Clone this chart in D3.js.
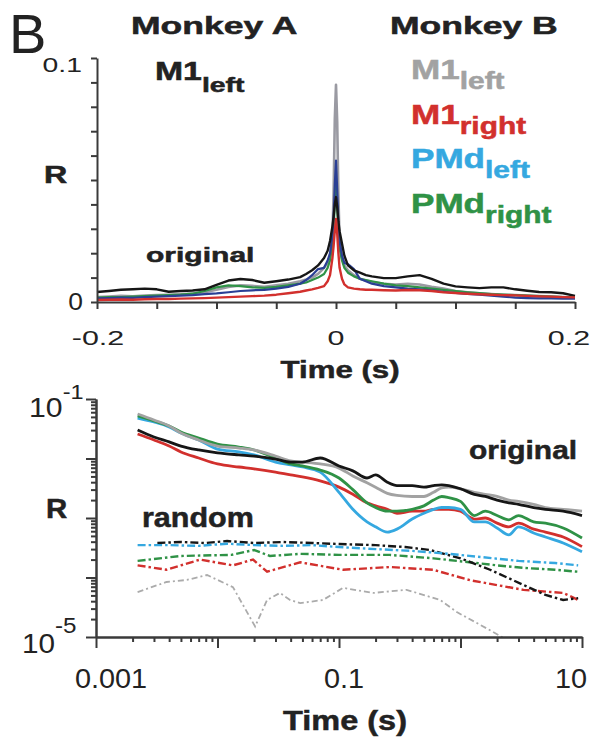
<!DOCTYPE html>
<html><head><meta charset="utf-8">
<script src="https://cdn.jsdelivr.net/npm/d3@7"></script>
<style>
body{margin:0;background:#fff}
svg{display:block}
text{font-family:"Liberation Sans",Arial,Helvetica,sans-serif}
</style>
</head><body>
<svg id="c" width="595" height="742"></svg>
<script>
// ---------- top panel: cross-correlation vs lag ----------
const lagsTop = [-0.2,-0.19,-0.18,-0.17,-0.16,-0.15,-0.14,-0.13,-0.12,-0.11,-0.1,-0.09,-0.08,-0.07,-0.06,-0.05,-0.04,-0.03,
  -0.025,-0.02,-0.015,-0.01,-0.007,-0.005,-0.003,-0.002,-0.001,0,0.001,0.002,0.003,0.005,0.007,0.01,0.015,0.02,0.025,
  0.03,0.04,0.05,0.06,0.07,0.08,0.09,0.1,0.11,0.12,0.13,0.14,0.15,0.16,0.17,0.18,0.19,0.2];
const topA_M1left = [0.0041,0.0045,0.005,0.0052,0.0055,0.0052,0.0042,0.0045,0.0047,0.0052,0.007,0.0088,0.0094,0.009,0.0079,0.0085,0.0092,0.0102,
  0.0115,0.013,0.015,0.018,0.021,0.025,0.031,0.035,0.04,0.043,0.039,0.033,0.029,0.024,0.019,0.015,0.013,0.012,0.011,
  0.0105,0.0098,0.0098,0.0105,0.011,0.0095,0.0075,0.0064,0.006,0.0057,0.006,0.006,0.0052,0.0046,0.0041,0.004,0.0036,0.0025];
const topB_M1left = [0.002,0.0022,0.0025,0.0023,0.0026,0.0028,0.003,0.0032,0.0035,0.004,0.005,0.0062,0.0068,0.0066,0.0062,0.0068,0.0075,0.0085,
  0.0092,0.01,0.0115,0.014,0.016,0.019,0.026,0.045,0.075,0.089,0.074,0.044,0.025,0.018,0.015,0.013,0.011,0.0095,0.0088,
  0.0082,0.0075,0.0072,0.0075,0.0072,0.0062,0.0055,0.0045,0.004,0.0036,0.0033,0.003,0.0028,0.0026,0.0024,0.0022,0.002,0.0018];
const topB_M1right = [0.0008,0.0009,0.001,0.0009,0.0011,0.0012,0.0012,0.0014,0.0015,0.0016,0.0018,0.002,0.0022,0.0024,0.0026,0.003,0.0036,0.0042,
  0.0047,0.0052,0.0058,0.0065,0.0085,0.011,0.018,0.023,0.029,0.034,0.028,0.02,0.014,0.0095,0.0072,0.006,0.0055,0.0052,0.005,
  0.005,0.0048,0.0047,0.0049,0.0048,0.0045,0.004,0.0037,0.0034,0.0032,0.003,0.0028,0.0027,0.0025,0.0023,0.0022,0.002,0.0019];
const topB_PMdleft = [0.0015,0.0016,0.0018,0.0017,0.002,0.0022,0.0024,0.0026,0.0028,0.0032,0.0035,0.004,0.0045,0.0048,0.005,0.0055,0.0062,0.0075,
  0.009,0.011,0.0135,0.014,0.017,0.02,0.027,0.035,0.048,0.058,0.046,0.033,0.025,0.019,0.016,0.0155,0.0135,0.0095,0.0085,
  0.0075,0.0065,0.006,0.0055,0.0052,0.0048,0.0042,0.0037,0.0033,0.003,0.0026,0.0022,0.0018,0.0016,0.0015,0.0015,0.0014,0.0014];
const topB_PMdright = [0.0018,0.002,0.002,0.0022,0.0024,0.0026,0.0028,0.003,0.0034,0.0045,0.006,0.0068,0.0065,0.006,0.0058,0.0062,0.0068,0.0075,
  0.008,0.009,0.01,0.0115,0.014,0.017,0.024,0.03,0.04,0.048,0.039,0.029,0.022,0.017,0.014,0.012,0.0105,0.0095,0.009,
  0.0085,0.0075,0.0068,0.0065,0.006,0.0055,0.005,0.0045,0.004,0.0036,0.0032,0.003,0.0028,0.0026,0.0024,0.0022,0.002,0.0018];
const topXTicks = [-0.2,-0.15,-0.1,-0.05,0,0.05,0.1,0.15,0.2];
const topXLabels = ["-0.2","0","0.2"];
const topYTicks = [0,0.01,0.02,0.03,0.04,0.05,0.06,0.07,0.08,0.09,0.1];
const topYLabels = ["0","0.1"];

// ---------- bottom panel: R vs time scale (log-log) ----------
const tB = [0.0022,0.003,0.004,0.005,0.007,0.01,0.015,0.02,0.03,0.04,0.05,0.07,0.1,0.13,0.17,0.2,0.25,0.3,0.4,0.5,0.6,0.7,0.8,1,1.3,1.6,2,2.5,3,4,5,7,10];
const botA_M1left = [0.0301,0.0230,0.0190,0.0162,0.0139,0.0124,0.0115,0.0110,0.0098,0.0087,0.0087,0.0102,0.0075,0.0062,0.0047,0.0053,0.0040,0.0035,0.0035,0.0033,0.0035,0.0036,0.0035,0.0031,0.0025,0.0023,0.0020,0.0018,0.0017,0.0015,0.0014,0.0013,0.0011];
const botB_M1left = [0.0559,0.0444,0.0352,0.0268,0.0205,0.0162,0.0150,0.0139,0.0110,0.0091,0.0087,0.0081,0.0069,0.0051,0.0039,0.0033,0.0026,0.0024,0.0023,0.0023,0.0027,0.0032,0.0033,0.0031,0.0027,0.0025,0.0023,0.0020,0.0019,0.0017,0.0015,0.0014,0.0013];
const botB_M1right = [0.0258,0.0205,0.0162,0.0129,0.0102,0.0081,0.0072,0.0067,0.0059,0.0053,0.0049,0.0042,0.0033,0.0025,0.0018,0.0016,0.0014,0.0012,0.0013,0.0013,0.0014,0.0014,0.0014,0.0013,0.00096,0.0010,0.00082,0.00071,0.00082,0.00065,0.00058,0.00048,0.00033];
const botB_PMdleft = [0.0479,0.0411,0.0339,0.0268,0.0205,0.0144,0.0129,0.0115,0.0087,0.0078,0.0072,0.0059,0.0027,0.0014,0.00086,0.00071,0.00058,0.00065,0.00096,0.0012,0.0014,0.0015,0.0015,0.0014,0.00086,0.00086,0.00068,0.00052,0.00071,0.00056,0.00048,0.00038,0.00027];
const botB_PMdright = [0.0518,0.0427,0.0352,0.0279,0.0221,0.0175,0.0156,0.0139,0.0102,0.0081,0.0075,0.0064,0.0047,0.0030,0.0018,0.0015,0.0013,0.0013,0.0014,0.0016,0.0020,0.0023,0.0022,0.0019,0.0011,0.0013,0.0011,0.00093,0.0011,0.00086,0.00082,0.00068,0.00046];

const tRandBlue = [0.0022,0.004,0.007,0.012,0.02,0.035,0.06,0.1,0.2,0.4,0.8,1.5,3,6,9.3];
const rRandBlue = [3.5e-4,3.5e-4,3.4e-4,3.7e-4,3.5e-4,3.4e-4,3.5e-4,3.25e-4,3.0e-4,2.8e-4,2.5e-4,2.2e-4,1.9e-4,1.75e-4,1.6e-4];
const tRandBlack = [0.0032,0.005,0.008,0.012,0.02,0.035,0.06,0.1,0.2,0.35,0.56,1.0,1.75,3.3,5,7,9.3];
const rRandBlack = [3.8e-4,3.95e-4,3.8e-4,4.1e-4,3.8e-4,3.95e-4,3.8e-4,3.65e-4,3.5e-4,3.25e-4,2.9e-4,2.1e-4,1.35e-4,7.5e-5,5.1e-5,4.2e-5,4.5e-5];
const tRandGreen = [0.0022,0.005,0.013,0.02,0.027,0.048,0.1,0.26,0.6,0.94,2,3.3,6,9.3];
const rRandGreen = [1.9e-4,2.3e-4,2.4e-4,2.9e-4,2.3e-4,2.5e-4,2.4e-4,2.4e-4,2.1e-4,1.9e-4,1.6e-4,1.45e-4,1.35e-4,1.25e-4];
const tRandRed = [0.0022,0.0038,0.0072,0.0134,0.0196,0.0256,0.048,0.108,0.263,0.594,1.2,3.3,7,9.3];
const rRandRed = [1.6e-4,1.35e-4,2.0e-4,1.6e-4,2.0e-4,1.25e-4,1.8e-4,1.35e-4,1.5e-4,1.35e-4,9e-5,6.2e-5,5.5e-5,4.2e-5];
const tRandGray = [0.0022,0.0038,0.0056,0.0082,0.0134,0.0204,0.0256,0.0327,0.0395,0.048,0.074,0.108,0.19,0.36,0.68,0.94,1.75,2.4];
const rRandGray = [5.7e-5,8.4e-5,9.1e-5,1.1e-4,6.9e-5,1.5e-5,4.2e-5,5.5e-5,4.2e-5,3.7e-5,4.2e-5,6.7e-5,5.5e-5,6.2e-5,4.2e-5,2.6e-5,1.3e-5,9e-6];

const botXMajor = [0.001,0.01,0.1,1,10];
const botXLabels = ["0.001","0.1","10"];
const botYMajor = [1e-5,1e-4,1e-3,1e-2,1e-1];
const botYLabels = ["-5","-1"];

const legendNames = [["M1","left"],["M1","right"],["PMd","left"],["PMd","right"]];
const legendColors = ["#a2a2a2","#d2302d","#35a8e0","#2f9246"];

// ---------- drawing ----------
const svg = d3.select("#c");
svg.append("rect").attr("width",595).attr("height",742).attr("fill","#fff");
const INK = "#222", AX = "#3a3a3a";

function stext(x, y, parts, o) {
  o = o || {};
  const fill = o.fill || INK;
  const t = svg.append("text")
    .attr("transform", `translate(${x},${y}) scale(${o.sx||1},1)`)
    .attr("text-anchor", o.anchor || "start")
    .attr("font-weight", o.weight || "normal")
    .attr("fill", fill);
  if (o.weight === "bold") t.attr("stroke", fill).attr("stroke-width", 0.5);
  parts.forEach(p => t.append("tspan").attr("font-size", p.s).attr("dy", p.dy || 0).text(p.t));
  return t;
}

// top scales
const xT = d3.scaleLinear().domain([-0.2,0.2]).range([97,575]);
const yT = d3.scaleLinear().domain([0,0.1]).range([302,58]);

const gTop = svg.append("g");
const topSeries = [
  {v: topB_M1left, c: "#9a9aa2", w: 2.6},
  {v: topB_PMdright, c: "#2f9246", w: 2.2},
  {v: topB_PMdleft, c: "#2a3f95", w: 2.2},
  {v: topA_M1left, c: "#161616", w: 2.4},
  {v: topB_M1right, c: "#d2302d", w: 2.4}
];
const lineT = d3.line().x(d => xT(d[0])).y(d => yT(d[1]));
topSeries.forEach(s => {
  gTop.append("path").datum(lagsTop.map((l,i) => [l, s.v[i]]))
    .attr("d", lineT).attr("fill","none").attr("stroke", s.c)
    .attr("stroke-width", s.w).attr("stroke-linejoin","round");
});

// top axes
const axYT = svg.append("g").attr("transform","translate(97,0)")
  .call(d3.axisLeft(yT).tickValues(topYTicks).tickSize(6).tickSizeOuter(0).tickFormat(""));
const axXT = svg.append("g").attr("transform","translate(0,302)")
  .call(d3.axisBottom(xT).tickValues(topXTicks).tickSize(7).tickSizeOuter(0).tickFormat(""));
[axYT, axXT].forEach(a => { a.selectAll("path,line").attr("stroke", AX).attr("stroke-width", 2); });

// top tick labels
stext(82, 72, [{t: topYLabels[1], s: 21}], {anchor: "end", sx: 1.35});
stext(83, 310, [{t: topYLabels[0], s: 24}], {anchor: "end", sx: 1.1});
const topXLabelX = [98, 336, 569];
topXLabels.forEach((l,i) => stext(topXLabelX[i], 345, [{t: l, s: 21}], {anchor: "middle", sx: 1.45}));
stext(340, 378, [{t: "Time (s)", s: 24}], {anchor: "middle", weight: "bold", sx: 1.3});
stext(44, 183, [{t: "R", s: 23}], {weight: "bold", sx: 1.4});
stext(146, 262, [{t: "original", s: 21}], {weight: "bold", sx: 1.43});

// headings
stext(9, 53, [{t: "B", s: 56}], {});
stext(131, 34, [{t: "Monkey A", s: 24}], {weight: "bold", sx: 1.48});
stext(390, 34, [{t: "Monkey B", s: 24}], {weight: "bold", sx: 1.48});
stext(155, 80, [{t: "M1", s: 25}, {t: "left", s: 21, dy: 12}], {weight: "bold", sx: 1.35});
legendNames.forEach((n,i) => {
  stext(411, 79 + i*44.5, [{t: n[0], s: 27}, {t: n[1], s: 23, dy: 10}], {weight: "bold", sx: 1.3, fill: legendColors[i]});
});

// bottom scales
const xB = d3.scaleLog().domain([0.001,10]).range([96,582]);
const yB = d3.scaleLog().domain([1e-5,1e-1]).range([637,399]);

svg.append("defs").append("clipPath").attr("id","clipB")
  .append("rect").attr("x",96).attr("y",395).attr("width",490).attr("height",242);
const gBot = svg.append("g").attr("clip-path","url(#clipB)");
const lineB = d3.line().x(d => xB(d[0])).y(d => yB(d[1])).curve(d3.curveMonotoneX);
const lineBr = d3.line().x(d => xB(d[0])).y(d => yB(d[1]));

const randSeries = [
  {t: tRandGray, v: rRandGray, c: "#ababab", w: 1.8, dash: "6,3,2,3"},
  {t: tRandRed, v: rRandRed, c: "#d2302d", w: 2.4, dash: "8,3,2.5,3"},
  {t: tRandGreen, v: rRandGreen, c: "#2f9246", w: 2.4, dash: "8,3,2.5,3"},
  {t: tRandBlack, v: rRandBlack, c: "#161616", w: 2.4, dash: "8,3,2.5,3"},
  {t: tRandBlue, v: rRandBlue, c: "#35a8e0", w: 2.4, dash: "8,3,2.5,3"}
];
randSeries.forEach(s => {
  gBot.append("path").datum(s.t.map((t,i) => [t, s.v[i]]))
    .attr("d", lineBr).attr("fill","none").attr("stroke", s.c)
    .attr("stroke-width", s.w).attr("stroke-dasharray", s.dash);
});
const origSeries = [
  {v: botB_M1right, c: "#d2302d"},
  {v: botB_PMdleft, c: "#35a8e0"},
  {v: botB_PMdright, c: "#2f9246"},
  {v: botB_M1left, c: "#a2a2a2"},
  {v: botA_M1left, c: "#161616"}
];
origSeries.forEach(s => {
  gBot.append("path").datum(tB.map((t,i) => [t, s.v[i]]))
    .attr("d", lineB).attr("fill","none").attr("stroke", s.c)
    .attr("stroke-width", 2.8).attr("stroke-linejoin","round");
});

// bottom axes with major + minor ticks
const minorX = [], minorY = [];
[-3,-2,-1,0].forEach(e => { for (let k = 2; k <= 9; k++) minorX.push(k * Math.pow(10, e)); });
[-5,-4,-3,-2].forEach(e => { for (let k = 2; k <= 9; k++) minorY.push(k * Math.pow(10, e)); });
const axes = [
  svg.append("g").attr("transform","translate(96,0)")
    .call(d3.axisLeft(yB).tickValues(minorY).tickSize(5).tickSizeOuter(0).tickFormat("")),
  svg.append("g").attr("transform","translate(96,0)")
    .call(d3.axisLeft(yB).tickValues(botYMajor).tickSize(10).tickSizeOuter(0).tickFormat("")),
  svg.append("g").attr("transform","translate(0,637)")
    .call(d3.axisBottom(xB).tickValues(minorX).tickSize(5).tickSizeOuter(0).tickFormat("")),
  svg.append("g").attr("transform","translate(0,637)")
    .call(d3.axisBottom(xB).tickValues(botXMajor).tickSize(11).tickSizeOuter(0).tickFormat(""))
];
axes.forEach(a => { a.selectAll("path,line").attr("stroke", AX).attr("stroke-width", 2); });

// bottom labels
stext(29, 417, [{t: "10", s: 27}, {t: botYLabels[1], s: 21, dy: -18}], {sx: 1.12});
stext(22, 653, [{t: "10", s: 27}, {t: botYLabels[0], s: 22, dy: -20}], {sx: 1.1});
const botXLabelX = [111, 344, 571];
botXLabels.forEach((l,i) => stext(botXLabelX[i], 688, [{t: l, s: 28}], {anchor: "middle", sx: 1.03}));
stext(345, 730, [{t: "Time (s)", s: 28}], {anchor: "middle", weight: "bold", sx: 1.16});
stext(46, 518, [{t: "R", s: 28}], {weight: "bold", sx: 1.05});
stext(142, 527, [{t: "random", s: 27}], {weight: "bold", sx: 1.13});
stext(469, 459, [{t: "original", s: 26.5}], {weight: "bold", sx: 1.13});
</script>
</body></html>
